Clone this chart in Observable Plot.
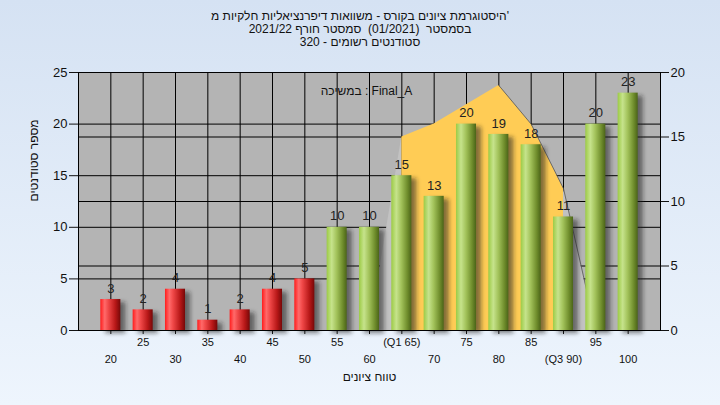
<!DOCTYPE html>
<html><head><meta charset="utf-8">
<script src="https://cdn.jsdelivr.net/npm/d3@7"></script>
<script src="https://cdn.jsdelivr.net/npm/@observablehq/plot@0.6"></script>
<style>
html,body{margin:0;padding:0;}
body{width:720px;height:405px;overflow:hidden;background:linear-gradient(#d5e2f3,#eef5fd);font-family:"Liberation Sans",Arial,sans-serif;}
#title{height:50px;padding-top:10px;box-sizing:border-box;text-align:center;font-size:12px;line-height:13px;color:#111;white-space:pre;}
#chart svg{display:block;background:transparent;font-family:"Liberation Sans",Arial,sans-serif;}
</style></head><body>
<div id="title"></div>
<div id="chart"></div>
<script>
const titleLines = ["היסטוגרמת ציונים בקורס - משוואות דיפרנציאליות חלקיות מ'", "בסמסטר  (01/2021)  סמסטר חורף 2021/22", "סטודנטים רשומים - 320"];
const grades = [20,25,30,35,40,45,50,55,60,65,70,75,80,85,90,95,100];
const counts = [3,2,4,1,2,4,5,10,10,15,13,20,19,18,11,20,23];
const passMin = 55;
const finalGrades = [60,65,70,75,80,85,90,95];
const finalValues = [0,15,16,17.5,19,16,11,0];
const q1 = 65, q3 = 90;
const leftTicks = [0,5,10,15,20,25];
const rightTicks = [0,5,10,15,20];
const tickLabels = {65:"(Q1 65)", 90:"(Q3 90)"};
const xTitle = "טווח ציונים";
const yTitle = "מספר סטודנטים";
const note = "במשיכה : Final_A";

document.getElementById("title").innerHTML = titleLines.map(t => `<div>${t}</div>`).join("");

const leftMax = 25, rightMax = 20, k = leftMax / rightMax;
const hw = 1.55;
const bars = grades.map((g, i) => ({g, c: counts[i]}));
const fin = finalGrades.map((g, i) => ({g, v: finalValues[i] * k}));
const finLeft = fin.filter(d => d.g <= q1);
const finMid = fin.filter(d => d.g >= q1 && d.g <= q3);
const finRight = fin.filter(d => d.g >= q3);
const finEdge = fin.filter(d => d.g >= 80);
const row1 = grades.filter((g, i) => i % 2 === 1);
const row2 = grades.filter((g, i) => i % 2 === 0);
const fmt = g => tickLabels[g] || String(g);

const chart = Plot.plot({
  width: 720, height: 355,
  marginLeft: 78, marginRight: 60, marginTop: 22, marginBottom: 75,
  x: {domain: [15, 105], axis: null},
  y: {domain: [0, leftMax], axis: null},
  style: {background: "transparent", overflow: "visible"},
  marks: [
    Plot.frame({fill: "#b4b4b4", stroke: "none"}),
    Plot.ruleX(grades, {stroke: "black", strokeWidth: 1}),
    Plot.ruleY(leftTicks, {stroke: "black", strokeWidth: 1}),
    Plot.ruleY(rightTicks.map(v => v * k), {stroke: "black", strokeWidth: 1}),
    Plot.areaY(finLeft, {x: "g", y: "v", fill: "#c2c2c2"}),
    Plot.areaY(finRight, {x: "g", y: "v", fill: "#c2c2c2"}),
    Plot.areaY(finMid, {x: "g", y: "v", fill: "#ffcc55"}),
    Plot.line(finEdge, {x: "g", y: "v", stroke: "#555", strokeWidth: 1, strokeOpacity: 0.8}),
    Plot.rectY(bars, {x1: d => d.g - hw, x2: d => d.g + hw, y: "c", dx: 5, dy: 3, fill: "#222", fillOpacity: 0.55, ariaDescription: "shadow"}),
    Plot.rectY(bars, {x1: d => d.g - hw, x2: d => d.g + hw, y: "c", fill: d => d.g >= passMin ? "url(#gGreen)" : "url(#gRed)"}),
    Plot.text(bars, {x: "g", y: "c", text: d => String(d.c), dy: -11, fontSize: 13, fill: "#222"}),
    Plot.axisY({anchor: "left", ticks: leftTicks, tickSize: 9, tickPadding: 2, fontSize: 13, label: null, color: "#111"}),
    Plot.axisY({anchor: "right", ticks: rightTicks.map(v => v * k), tickFormat: d => String(Math.round(d / k)), tickSize: 8, tickPadding: 2, fontSize: 13, label: null, color: "#111"}),
    Plot.axisX({ticks: grades, tickSize: 4, tickFormat: () => "", label: null, color: "#111"}),
    Plot.text(row1, {x: d => d, frameAnchor: "bottom", dy: 15, text: fmt, fontSize: 11, fill: "#111"}),
    Plot.text(row2, {x: d => d, frameAnchor: "bottom", dy: 32, text: fmt, fontSize: 11, fill: "#111"}),
    Plot.text([xTitle], {frameAnchor: "bottom", dy: 50, text: d => d, fontSize: 12, fill: "#111"}),
    Plot.text([yTitle], {frameAnchor: "left", dx: -44, rotate: -90, text: d => d, fontSize: 12, fill: "#111"}),
    Plot.text([note], {frameAnchor: "top", dy: 14, dx: -3, text: d => d, fontSize: 12, fill: "#111"}),
    Plot.frame({stroke: "black", strokeWidth: 1})
  ]
});

const svg = d3.select(chart);
const defs = svg.insert("defs", ":first-child");
const red = defs.append("linearGradient").attr("id", "gRed").attr("x1", 0).attr("x2", 1).attr("y1", 0).attr("y2", 0);
[["0%", "#ff1c1c"], ["22%", "#ff6a6a"], ["40%", "#f04848"], ["75%", "#b81818"], ["100%", "#760808"]].forEach(([o, c]) => red.append("stop").attr("offset", o).attr("stop-color", c));
const green = defs.append("linearGradient").attr("id", "gGreen").attr("x1", 0).attr("x2", 1).attr("y1", 0).attr("y2", 0);
[["0%", "#9ccb45"], ["25%", "#c6e38c"], ["50%", "#a2c25a"], ["80%", "#6f8d2c"], ["100%", "#4b6418"]].forEach(([o, c]) => green.append("stop").attr("offset", o).attr("stop-color", c));
defs.append("filter").attr("id", "blur").attr("x", "-50%").attr("y", "-50%").attr("width", "200%").attr("height", "200%")
  .append("feGaussianBlur").attr("stdDeviation", 2);
svg.selectAll("g[aria-description=shadow]").attr("filter", "url(#blur)");
document.getElementById("chart").appendChild(chart);
</script>
</body></html>
